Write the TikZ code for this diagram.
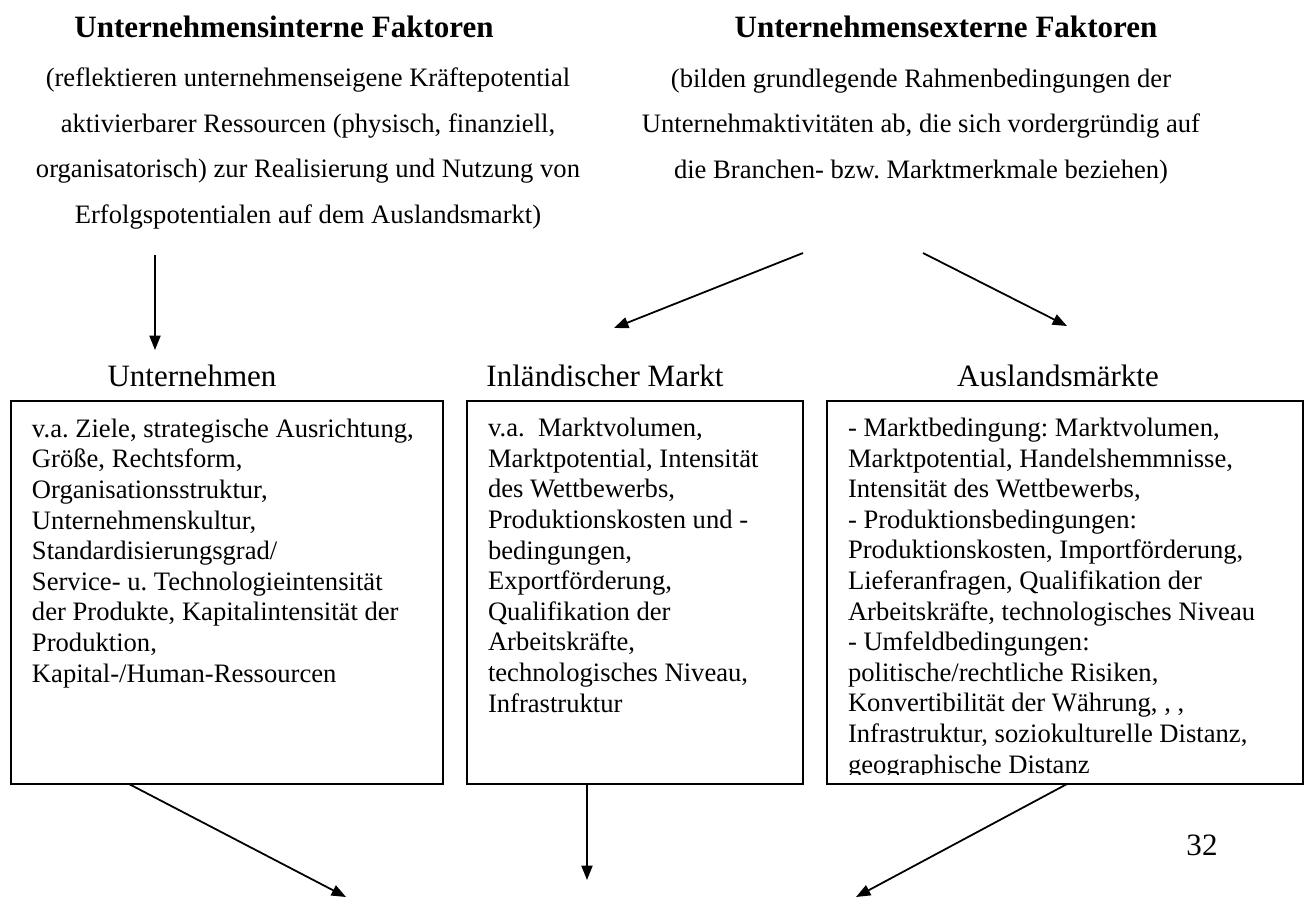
\documentclass[tikz,border=0pt]{standalone}
\usepackage{fontspec}
\setmainfont{Liberation Serif}
\usetikzlibrary{
    arrows.meta,
    calc,
    positioning
}
\newcommand{\pxl}{0.451pt}
\tikzset{
    every picture/.style = {
        > = {Triangle[length = 6.5pt, width = 5pt]},
        line width = 0.8pt,
        x = \pxl,
        y = -\pxl
    },
    every node/.style = {
        inner sep = 0pt,
        outer sep = 0pt,
        anchor = base
    },
    heading/.style = {
        font = \fontsize{14}{16.8}\selectfont\bfseries
    },
    remark/.style = {
        align = center,
        font = \fontsize{12}{20.5}\selectfont
    },
    caption/.style = {
        font = \fontsize{14}{16.8}\selectfont
    },
    factorbox/.style = {
        draw,
        anchor = north west,
        minimum height = 383*\pxl
    },
    boxtext/.style = {
        align = left,
        anchor = base west,
        font = \fontsize{12}{13.8}\selectfont
    }
}
\frenchspacing

\begin{document}
\begin{tikzpicture}
    \useasboundingbox (0,0) rectangle (1309,899);

    % Faktoren (multi-line nodes sit on the baseline of their last line)
    \node[heading] (intHead) at (284,37) {Unternehmensinterne Faktoren};
    \node[heading] (extHead) at (946,37) {Unternehmensexterne Faktoren};
    \node[remark] (intNote) at (308,223) {(reflektieren unternehmenseigene Kräftepotential\\
        aktivierbarer Ressourcen (physisch, finanziell,\\
        organisatorisch) zur Realisierung und Nutzung von\\
        Erfolgspotentialen auf dem Auslandsmarkt)};
    \node[remark] (extNote) at (921,178) {(bilden grundlegende Rahmenbedingungen der\\
        Unternehmaktivitäten ab, die sich vordergründig auf\\
        die Branchen- bzw. Marktmerkmale beziehen)};

    % Bereiche
    \node[caption] (untLabel) at (192,386) {Unternehmen};
    \node[caption] (inlLabel) at (605,386) {Inländischer Markt};
    \node[caption] (ausLabel) at (1058,386) {Auslandsmärkte};

    \node[factorbox, minimum width = 432*\pxl] (unt) at (11,401) {};
    \node[factorbox, minimum width = 336*\pxl] (inl) at (467,401) {};
    \node[factorbox, minimum width = 476*\pxl] (aus) at (827,401) {};

    \node[boxtext] (untText) at ($(unt.north west)+(21,281)$) {v.a. Ziele, strategische Ausrichtung,\\
        Größe, Rechtsform,\\
        Organisationsstruktur,\\
        Unternehmenskultur,\\
        Standardisierungsgrad/\\
        Service- u. Technologieintensität\\
        der Produkte, Kapitalintensität der\\
        Produktion,\\
        Kapital-/Human-Ressourcen};
    \node[boxtext] (inlText) at ($(inl.north west)+(21,311)$) {v.a.\ \ Marktvolumen,\\
        Marktpotential, Intensität\\
        des Wettbewerbs,\\
        Produktionskosten und -\\
        bedingungen,\\
        Exportförderung,\\
        Qualifikation der\\
        Arbeitskräfte,\\
        technologisches Niveau,\\
        Infrastruktur};
    \begin{scope}
        \clip (aus.north west) rectangle ($(aus.south east)+(0,-10)$);
        \node[boxtext] (ausText) at ($(aus.north west)+(21,372)$) {- Marktbedingung: Marktvolumen,\\
            Marktpotential, Handelshemmnisse,\\
            Intensität des Wettbewerbs,\\
            - Produktionsbedingungen:\\
            Produktionskosten, Importförderung,\\
            Lieferanfragen, Qualifikation der\\
            Arbeitskräfte, technologisches Niveau\\
            - Umfeldbedingungen:\\
            politische/rechtliche Risiken,\\
            Konvertibilität der Währung, , ,\\
            Infrastruktur, soziokulturelle Distanz,\\
            geographische Distanz};
    \end{scope}

    \node[caption] (pageNo) at (1202,855) {32};

    % Pfeile
    \coordinate (intFrom) at (155,255);
    \coordinate (intTo) at (155,350);
    \coordinate (extFrom) at (803,253);
    \coordinate (extFrom2) at (923,253);
    \coordinate (inlTo) at (614,328);
    \coordinate (ausTo) at (1067,326);
    \coordinate (untOut) at (346,897);
    \coordinate (inlOut) at (587,880);
    \coordinate (ausOut) at (856,897);

    \draw[->] (intFrom) -- (intTo);
    \draw[->] (extFrom) -- (inlTo);
    \draw[->] (extFrom2) -- (ausTo);
    \draw[->] ($(unt.south west)+(118,0)$) -- (untOut);
    \draw[->] (inl.south -| inlOut) -- (inlOut);
    \draw[->] ($(aus.south west)+(240,0)$) -- (ausOut);
\end{tikzpicture}
\end{document}
